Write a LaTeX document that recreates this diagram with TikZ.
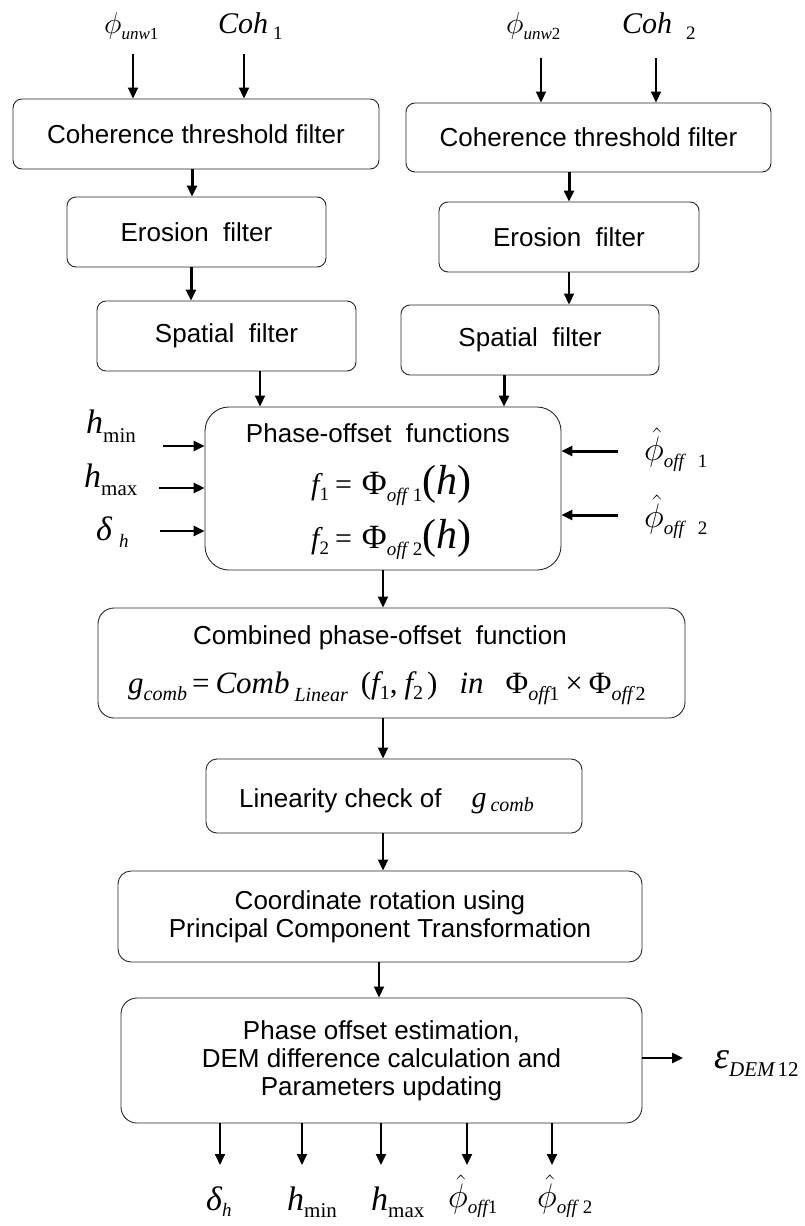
\RequirePackage{fix-cm}
\documentclass[tikz,border=0pt]{standalone}
\usepackage[no-math]{fontspec}
\setmainfont{Liberation Sans}
\newfontfamily\tms{Liberation Serif}
\usetikzlibrary{arrows.meta}
\newcommand{\Vi}[1]{{\tms\itshape #1}}
\newcommand{\Rm}[1]{{\tms\upshape #1}}
\newcommand{\Sb}[3]{\raisebox{-#2pt}{\fontsize{#1}{#1}\selectfont #3}}
\begin{document}
\begin{tikzpicture}[x=1pt,y=-1pt,
  box/.style={draw=black!85, line width=0.9pt, inner sep=0pt, align=center, font=\fontsize{26}{28}\selectfont},
  arr/.style={-{Triangle[length=11pt,width=10pt]}, line width=1.8pt},
  tarr/.style={arr, line width=3pt},
  marr/.style={arr, line width=2.5pt},
  ml/.style={inner sep=0pt, anchor=base west, font=\fontsize{30}{36}\selectfont},
  tx/.style={inner sep=0pt, align=center, font=\fontsize{26}{28}\selectfont}]
\useasboundingbox (0,0) rectangle (804,1226);

% boxes
\node[box, rounded corners=9pt, minimum width=366pt, minimum height=70pt] (coh1) at (196,134) {Coherence threshold filter};
\node[box, rounded corners=9pt, minimum width=259pt, minimum height=70pt] (ero1) at (196.5,232) {Erosion\ \ filter};
\node[box, rounded corners=9pt, minimum width=259pt, minimum height=70pt] (spa1) at (226.5,336) {Spatial\ \ filter};
\node[box, rounded corners=9pt, minimum width=365pt, minimum height=69pt] (coh2) at (588.5,137.5) {Coherence threshold filter};
\node[box, rounded corners=9pt, minimum width=260pt, minimum height=70pt] (ero2) at (569,237) {Erosion\ \ filter};
\node[box, rounded corners=9pt, minimum width=258pt, minimum height=70pt] (spa2) at (530,340) {Spatial\ \ filter};
\node[box, rounded corners=24pt, minimum width=356pt, minimum height=163pt] (phase) at (383,488.5) {};
\node[box, rounded corners=16pt, minimum width=587pt, minimum height=110pt] (comb) at (391.5,663) {};
\node[box, rounded corners=11pt, minimum width=376pt, minimum height=74pt] (lin) at (394,796) {};
\node[box, rounded corners=13pt, minimum width=524pt, minimum height=91pt] (coord) at (380,916.5) {Coordinate rotation using\\Principal Component Transformation};
\node[box, rounded corners=16pt, minimum width=521pt, minimum height=125pt] (est) at (381.5,1060.5) {Phase offset estimation,\\DEM difference calculation and\\Parameters updating};

% texts inside boxes
\node[tx] (ptitle) at (378,433) {Phase-offset\ \ functions};
\node[ml] (feq1) at (311,494) {\Vi{f}\Sb{19}{6}{\Rm{1}}\hspace{6pt}\Rm{=}\hspace{10pt}{\fontsize{34}{36}\selectfont\Rm{Φ}}\Sb{19}{7}{\Vi{off}\hspace{6pt}\Rm{1}}{\fontsize{42}{44}\selectfont\Rm{(}\Vi{h}\Rm{)}}};
\node[ml] (feq2) at (311,548) {\Vi{f}\Sb{19}{6}{\Rm{2}}\hspace{6pt}\Rm{=}\hspace{10pt}{\fontsize{34}{36}\selectfont\Rm{Φ}}\Sb{19}{7}{\Vi{off}\hspace{6pt}\Rm{2}}{\fontsize{42}{44}\selectfont\Rm{(}\Vi{h}\Rm{)}}};
\node[tx] (ctitle) at (380,638) {Combined phase-offset\ \ function};
\node[ml, font=\fontsize{31}{36}\selectfont] (geq) at (128,693) {\Vi{g}\Sb{20}{7}{\Vi{comb}}\hspace{5pt}\Rm{=}\hspace{6pt}\Vi{Comb}\hspace{5pt}\Sb{20}{8}{\Vi{Linear}}\hspace{13pt}\Rm{(}\Vi{f}\Sb{20}{6}{\Rm{1}}\Rm{,}\hspace{7pt}\Vi{f}\Sb{20}{6}{\Rm{2}}\hspace{4pt}\Rm{)}\hspace{22pt}\Vi{in}\hspace{22pt}\Rm{Φ}\Sb{20}{7}{\Vi{off}\Rm{1}}\hspace{6pt}\Rm{×}\hspace{6pt}\Rm{Φ}\Sb{20}{7}{\Vi{off}\hspace{3pt}\Rm{2}}};
\node[ml] (ltxt) at (239,807) {{\fontsize{26}{28}\selectfont Linearity check of}\hspace{30pt}\Vi{g}\hspace{4pt}\Sb{20}{4}{\Vi{comb}}};

% top labels
\node[ml] (lphiu1) at (104,33) {$\phi$\Sb{17}{6}{\Vi{unw}\Rm{1}}};
\node[ml] (lcoh1) at (218,33) {\Vi{Coh}\hspace{5pt}\Sb{19}{6}{\Rm{1}}};
\node[ml] (lphiu2) at (506,33) {$\phi$\Sb{17}{6}{\Vi{unw}\Rm{2}}};
\node[ml] (lcoh2) at (622,33) {\Vi{Coh}\hspace{14pt}\Sb{19}{6}{\Rm{2}}};

% left labels
\node[ml] (lhmin) at (86,433) {{\fontsize{34}{36}\selectfont\Vi{h}}\Sb{21}{9}{\Rm{min}}};
\node[ml] (lhmax) at (84,487) {{\fontsize{34}{36}\selectfont\Vi{h}}\Sb{21}{8}{\Rm{max}}};
\node[ml] (ldh) at (96,540) {{\fontsize{34}{40}\selectfont\Vi{δ}}\hspace{7pt}\Sb{19}{7}{\Vi{h}}};

% right labels
\node[ml] (lpo1) at (644,460) {{\fontsize{34}{36}\selectfont$\hat{\phi}$}\Sb{19}{7}{\Vi{off}\hspace{14pt}\Rm{1}}};
\node[ml] (lpo2) at (644,527) {{\fontsize{34}{36}\selectfont$\hat{\phi}$}\Sb{19}{7}{\Vi{off}\hspace{14pt}\Rm{2}}};

% output labels
\node[ml] (odh) at (206,1210) {{\fontsize{34}{38}\selectfont\Vi{δ}}\Sb{19}{6}{\Vi{h}}};
\node[ml] (ohmin) at (287,1210) {{\fontsize{34}{36}\selectfont\Vi{h}}\Sb{21}{7}{\Rm{min}}};
\node[ml] (ohmax) at (371,1210) {{\fontsize{34}{36}\selectfont\Vi{h}}\Sb{21}{7}{\Rm{max}}};
\node[ml] (opo1) at (448,1207) {{\fontsize{34}{36}\selectfont$\hat{\phi}$}\Sb{19}{6}{\Vi{off}\Rm{1}}};
\node[ml] (opo2) at (537,1207) {{\fontsize{34}{36}\selectfont$\hat{\phi}$}\Sb{19}{6}{\Vi{off}\hspace{6pt}\Rm{2}}};
\node[ml] (leps) at (714,1068) {{\fontsize{38}{40}\selectfont\Vi{ε}}\Sb{21}{8}{\Vi{DEM}\hspace{3pt}\Rm{12}}};

% connector coordinates
\coordinate (a1) at (133,54);
\coordinate (a2) at (244,54);
\coordinate (a3) at (541,58);
\coordinate (a4) at (656,58);
\coordinate (x192) at (192,0);
\coordinate (x191) at (191,0);
\coordinate (x569) at (569,0);
\coordinate (x260) at (260,0);
\coordinate (x504) at (504,0);
\coordinate (x383) at (383,0);
\coordinate (x379) at (379,0);
\coordinate (i1) at (163,446);
\coordinate (i2) at (159,488);
\coordinate (i3) at (160,531);
\coordinate (r1) at (618,451);
\coordinate (r2) at (618,515);
\coordinate (o1) at (220,1165);
\coordinate (o2) at (302,1165);
\coordinate (o3) at (381,1165);
\coordinate (o4) at (467,1165);
\coordinate (o5) at (552,1165);
\coordinate (e1) at (683,1058);

% connectors
\draw[arr] (a1) -- (a1 |- coh1.north);
\draw[arr] (a2) -- (a2 |- coh1.north);
\draw[arr] (a3) -- (a3 |- coh2.north);
\draw[arr] (a4) -- (a4 |- coh2.north);
\draw[tarr] (x192 |- coh1.south) -- (x192 |- ero1.north);
\draw[tarr] (x191 |- ero1.south) -- (x191 |- spa1.north);
\draw[tarr] (x569 |- coh2.south) -- (x569 |- ero2.north);
\draw[arr] (x569 |- ero2.south) -- (x569 |- spa2.north);
\draw[arr] (x260 |- spa1.south) -- (x260 |- phase.north);
\draw[tarr] (x504 |- spa2.south) -- (x504 |- phase.north);
\draw[marr] (i1) -- (i1 -| phase.west);
\draw[marr] (i2) -- (i2 -| phase.west);
\draw[marr] (i3) -- (i3 -| phase.west);
\draw[tarr] (r1) -- (r1 -| phase.east);
\draw[tarr] (r2) -- (r2 -| phase.east);
\draw[arr] (x383 |- phase.south) -- (x383 |- comb.north);
\draw[arr] (x383 |- comb.south) -- (x383 |- lin.north);
\draw[arr] (x383 |- lin.south) -- (x383 |- coord.north);
\draw[arr] (x379 |- coord.south) -- (x379 |- est.north);
\draw[arr] (o1 |- est.south) -- (o1);
\draw[arr] (o2 |- est.south) -- (o2);
\draw[arr] (o3 |- est.south) -- (o3);
\draw[arr] (o4 |- est.south) -- (o4);
\draw[arr] (o5 |- est.south) -- (o5);
\draw[marr] (e1 -| est.east) -- (e1);
\end{tikzpicture}
\end{document}
